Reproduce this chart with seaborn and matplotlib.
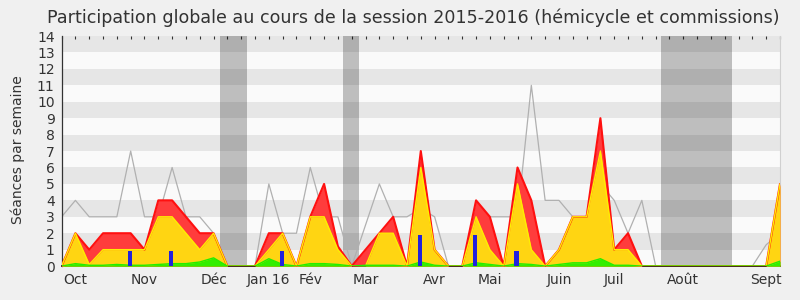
import numpy as np
import pandas as pd
import matplotlib
matplotlib.use("Agg")
import matplotlib.pyplot as plt
import seaborn as sns

# ---- data (weekly, session 2015-2016) ----
weeks = list(range(53))
total = [0, 2, 1, 2, 2, 2, 1, 4, 4, 3, 2, 2, 0, 0, 0,
         2, 2, 0, 3, 5, 1.2, 0, 1, 2, 3, 0, 7, 1, 0, 0,
         4, 3, 0, 6, 4, 0, 1, 3, 3, 9, 1, 2, 0,
         0, 0, 0, 0, 0, 0, 0, 0, 0, 5]
commission = [0, 2, 0.1, 1, 1, 1, 1, 3, 3, 2, 1, 2, 0, 0, 0,
              1, 2, 0, 3, 3, 1, 0, 0, 2, 2, 0, 6, 1, 0, 0,
              3, 1, 0, 5, 1, 0, 1, 3, 3, 7, 1, 1, 0,
              0, 0, 0, 0, 0, 0, 0, 0, 0, 5]
hemicycle = [0, 0.15, 0.05, 0.05, 0.1, 0.05, 0.05, 0.1, 0.15, 0.15, 0.25, 0.5, 0, 0, 0,
             0.45, 0.1, 0, 0.15, 0.15, 0.1, 0, 0.05, 0.05, 0.05, 0, 0.25, 0.05, 0, 0,
             0.2, 0.1, 0, 0.15, 0.1, 0, 0.1, 0.2, 0.2, 0.45, 0.05, 0.05, 0,
             0, 0, 0, 0, 0, 0, 0, 0, 0, 0.3]
median = [3, 4, 3, 3, 3, 7, 3, 3, 6, 3, 3, 2, 0, 0, 0,
          5, 2, 2, 6, 3, 3, 0, 2.5, 5, 3, 3, 3.5, 3, 0, 0,
          3, 3, 3, 3, 11, 4, 4, 3, 2, 5, 4, 2, 4,
          0, 0, 0, 0, 0, 0, 0, 0, 1.3, 2]
question_weeks = [5, 8, 16, 26, 30, 33]
question_values = [0.9, 0.9, 0.9, 1.9, 1.9, 0.9]
vacances = [(11.45, 13.45), (20.4, 21.5), (43.4, 48.5)]
month_weeks = [1, 6, 11, 15, 18, 22, 27, 31, 36, 40, 45, 51]
month_labels = ["Oct", "Nov", "Déc", "Jan 16", "Fév", "Mar", "Avr", "Mai",
                "Juin", "Juil", "Août", "Sept"]
title = "Participation globale au cours de la session 2015-2016 (hémicycle et commissions)"
ylabel = "Séances par semaine"

df = pd.DataFrame({"week": weeks, "total": total, "commission": commission,
                   "hemicycle": hemicycle, "median": median})

sns.set_style("white")
plt.rcParams["font.family"] = ["DejaVu Sans"]

fig = plt.figure(figsize=(8, 3), dpi=100, facecolor="#f0f0f0")
ax = fig.add_axes([0.077, 0.113, 0.898, 0.767])
ax.set_facecolor("#fafafa")

# stripes
for k in range(7):
    ax.axhspan(2 * k + 1, 2 * k + 2, color="#e6e6e6", lw=0, zorder=0)
# holiday bands
for a, b in vacances:
    ax.axvspan(a, b, color="black", alpha=0.24, lw=0, zorder=1)

# median line
sns.lineplot(data=df, x="week", y="median", color="#b0b0b0", lw=0.9, ax=ax, zorder=2)

# areas
ax.fill_between(df["week"], 0, df["total"], color="#ff3c3c", lw=0, zorder=3)
ax.fill_between(df["week"], 0, df["commission"], color="#ffd512", lw=0, zorder=4)
ax.fill_between(df["week"], 0, df["hemicycle"], color="#33ee00", lw=0, zorder=5)
sns.lineplot(data=df, x="week", y="total", color="#ff1010", lw=1.5, ax=ax, zorder=6)
sns.lineplot(data=df, x="week", y="commission", color="#ffee00", lw=1.0, ax=ax, zorder=7)
sns.lineplot(data=df, x="week", y="hemicycle", color="#22ee00", lw=1.0, ax=ax, zorder=8)

# questions bars
ax.bar(np.array(question_weeks) - 0.07, question_values, width=0.3,
       color="#2222dd", lw=0, zorder=9)

ax.set_xlim(0, 52)
ax.set_ylim(0, 14)
ax.set_xlabel("")
ax.set_ylabel("")

labels = [""] * 53
for w, l in zip(month_weeks, month_labels):
    labels[w] = l
ax.set_xticks(weeks)
ax.set_xticklabels(labels, fontsize=10, color="#333333")
ax.set_yticks(range(15))
ax.set_yticklabels([str(i) for i in range(15)], fontsize=10, color="#333333")
ax.tick_params(axis="x", length=4, width=0.8, color="#333333", pad=1, direction="out")
ax.tick_params(axis="y", length=4, width=0.8, color="#333333", pad=1, direction="out")

sec = ax.secondary_xaxis("top")
sec.set_xticks(weeks)
sec.set_xticklabels([""] * 53)
sec.tick_params(length=2, width=0.8, color="#333333", direction="in")
sec.spines["top"].set_visible(False)

ax.spines["top"].set_visible(False)
ax.spines["right"].set_color("#d0d0d0")
ax.spines["left"].set_color("#333333")
ax.spines["bottom"].set_color("#3a1a08")
ax.spines["bottom"].set_linewidth(1.3)
ax.spines["left"].set_linewidth(0.9)

fig.text(0.516, 0.94, title, ha="center", va="center", fontsize=12.6, color="#333333")
fig.text(0.022, 0.5, ylabel, ha="center", va="center", rotation=90, fontsize=10, color="#333333")

fig.savefig("out.png", dpi=100, facecolor=fig.get_facecolor())
